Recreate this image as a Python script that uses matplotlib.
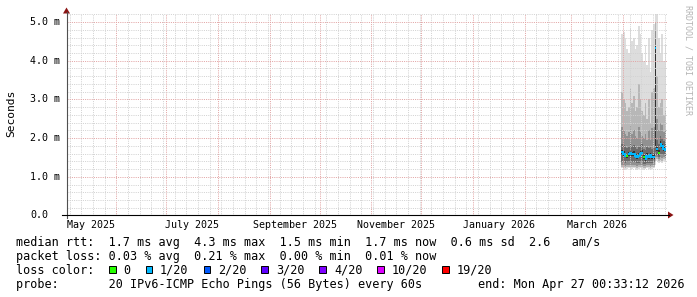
import matplotlib
matplotlib.use('Agg')
import matplotlib.pyplot as plt
import matplotlib.dates as mdates
from matplotlib.ticker import MultipleLocator, NullFormatter
from matplotlib.patches import Rectangle, Polygon
from matplotlib.lines import Line2D
from matplotlib.transforms import IdentityTransform, blended_transform_factory
import numpy as np
import pandas as pd

# ---------------- data ----------------
graph_start = '2025-05-02 00:33:12'
graph_end = '2026-04-27 00:33:12'
first_day = '2026-03-31'
last_edge = '2026-04-27'

# median rtt per day (ms), Mar 31 .. Apr 26
median_ms = [1.63, 1.60, 1.55, 1.54, 1.58, 1.62, 1.58, 1.60, 1.55, 1.52, 1.55, 1.60, 1.62, 1.50,
             1.47, 1.55, 1.52, 1.56, 1.50, 1.52, 4.32, 1.72, 1.62, 1.86, 1.80, 1.72, 1.68]
# loss category index per day (0 -> 0, 1 -> 1/20 ...)
loss_cat = [1, 1, 1, 0, 1, 1, 1, 1, 1, 1, 1, 1, 1, 0,
            1, 1, 1, 1, 1, 1, 1, 1, 0, 1, 1, 1, 1]

# smoke bands (outer -> inner)
smoke1_hi = [4.70, 4.75, 4.60, 4.30, 4.20, 4.85, 4.50, 4.60, 4.30, 4.40, 4.90, 4.70, 4.20, 4.00,
             4.40, 3.90, 4.60, 3.70, 4.80, 4.95, 5.20, 5.20, 4.60, 4.20, 4.70, 4.00, 4.40]
smoke1_lo = [1.22, 1.20, 1.18, 1.20, 1.22, 1.18, 1.20, 1.22, 1.20, 1.18, 1.20, 1.22, 1.20, 1.18,
             1.20, 1.22, 1.20, 1.18, 1.20, 1.22, 1.30, 1.40, 1.35, 1.38, 1.36, 1.40, 1.38]
smoke2_hi = [3.20, 3.00, 2.90, 2.70, 2.80, 3.30, 2.90, 3.10, 2.70, 2.80, 3.40, 3.00, 2.70, 2.60,
             2.90, 2.50, 3.00, 2.40, 3.20, 3.30, 5.00, 3.60, 2.80, 2.90, 3.00, 2.60, 2.70]
smoke2_lo = [1.26, 1.25, 1.24, 1.25, 1.26, 1.24, 1.25, 1.26, 1.25, 1.24, 1.25, 1.26, 1.25, 1.24,
             1.24, 1.26, 1.25, 1.24, 1.25, 1.26, 1.40, 1.45, 1.40, 1.44, 1.42, 1.45, 1.43]
smoke3_hi = [2.30, 2.20, 2.10, 2.05, 2.15, 2.35, 2.10, 2.20, 2.05, 2.00, 2.30, 2.15, 2.05, 2.00,
             2.10, 1.95, 2.20, 1.95, 2.25, 2.30, 4.80, 2.50, 2.20, 2.40, 2.35, 2.15, 2.20]
smoke3_lo = [1.31, 1.30, 1.29, 1.30, 1.31, 1.29, 1.30, 1.31, 1.30, 1.29, 1.30, 1.31, 1.30, 1.28,
             1.28, 1.30, 1.30, 1.29, 1.30, 1.31, 1.50, 1.50, 1.45, 1.50, 1.48, 1.50, 1.48]
smoke4_hi = [1.85, 1.82, 1.76, 1.74, 1.80, 1.85, 1.80, 1.82, 1.76, 1.72, 1.78, 1.82, 1.85, 1.72,
             1.68, 1.76, 1.74, 1.78, 1.72, 1.74, 4.55, 1.95, 1.85, 2.05, 2.00, 1.92, 1.88]
smoke4_lo = [1.38, 1.37, 1.36, 1.37, 1.38, 1.36, 1.37, 1.38, 1.37, 1.35, 1.36, 1.38, 1.37, 1.34,
             1.33, 1.36, 1.36, 1.35, 1.36, 1.37, 1.65, 1.56, 1.50, 1.58, 1.56, 1.56, 1.54]
smoke5_hi = [1.69, 1.66, 1.61, 1.60, 1.64, 1.68, 1.64, 1.66, 1.61, 1.58, 1.61, 1.66, 1.68, 1.56,
             1.53, 1.61, 1.58, 1.62, 1.56, 1.58, 4.38, 1.78, 1.68, 1.92, 1.86, 1.78, 1.74]
smoke5_lo = [1.58, 1.55, 1.50, 1.49, 1.53, 1.57, 1.53, 1.55, 1.50, 1.47, 1.50, 1.55, 1.57, 1.45,
             1.42, 1.50, 1.47, 1.51, 1.45, 1.47, 1.80, 1.67, 1.57, 1.80, 1.75, 1.67, 1.63]
smoke_colors = ['#dddddd', '#b7b7b7', '#919191', '#6b6b6b', '#323232']

loss_labels = ['0', '1/20', '2/20', '3/20', '4/20', '10/20', '19/20']
loss_colors = ['#26ff00', '#00b8ff', '#0059ff', '#5e00ff', '#7e00ff', '#dd00ff', '#ff0000']

y_ticks = [0, 1, 2, 3, 4, 5]
y_tick_labels = ['0.0', '1.0 m', '2.0 m', '3.0 m', '4.0 m', '5.0 m']
x_label_dates = ['2025-05-16 12:00', '2025-07-16 12:00', '2025-09-16 00:00',
                 '2025-11-16 00:00', '2026-01-16 12:00', '2026-03-16 12:00']
x_labels = ['May 2025', 'July 2025', 'September 2025', 'November 2025',
            'January 2026', 'March 2026']

legend_rtt = "median rtt:  1.7 ms avg  4.3 ms max  1.5 ms min  1.7 ms now  0.6 ms sd  2.6   am/s"
legend_loss = "packet loss: 0.03 % avg  0.21 % max  0.00 % min  0.01 % now"
legend_color = "loss color:"
legend_probe = "probe:       20 IPv6-ICMP Echo Pings (56 Bytes) every 60s"
legend_end = "end: Mon Apr 27 00:33:12 2026"

# ---------------- figure ----------------
W, H = 697, 297
fig = plt.figure(figsize=(W / 100, H / 100), dpi=100, facecolor='white')

X0, X1 = 66.5, 666.5
Y0, Y1 = 215.5, 14.3
ax = fig.add_axes([X0 / W, 1 - Y0 / H, (X1 - X0) / W, (Y0 - Y1) / H])
ax.set_facecolor('white')
for s in ax.spines.values():
    s.set_visible(False)

t0 = pd.Timestamp(graph_start)
t1 = pd.Timestamp(graph_end)
ax.set_xlim(t0, t1)
ax.set_ylim(0, 5.2)

edges = pd.date_range(first_day, last_edge, freq='D')

bands = [(smoke1_lo, smoke1_hi), (smoke2_lo, smoke2_hi), (smoke3_lo, smoke3_hi),
         (smoke4_lo, smoke4_hi), (smoke5_lo, smoke5_hi)]
for (lo, hi), col in zip(bands, smoke_colors):
    ax.fill_between(edges, lo + [lo[-1]], hi + [hi[-1]], step='post',
                    color=col, linewidth=0, antialiased=False, zorder=2)

# median line, step style, colour by loss
xn = mdates.date2num(edges)
runs = []
cur = None
for i, m in enumerate(median_ms):
    if cur is not None and cur['c'] == loss_cat[i] and abs(m - median_ms[i - 1]) < 1.0:
        cur['x'] += [xn[i], xn[i + 1]]
        cur['y'] += [m, m]
    else:
        cur = {'c': loss_cat[i], 'x': [xn[i], xn[i + 1]], 'y': [m, m]}
        runs.append(cur)
for r in runs:
    ax.plot(r['x'], r['y'], color=loss_colors[r['c']], lw=1.45,
            solid_capstyle='butt', solid_joinstyle='miter', zorder=5)

# grid
ax.xaxis.set_major_locator(mdates.MonthLocator(bymonthday=1))
ax.xaxis.set_minor_locator(mdates.WeekdayLocator(byweekday=mdates.SU))
ax.yaxis.set_major_locator(MultipleLocator(1.0))
ax.yaxis.set_minor_locator(MultipleLocator(0.2))
ax.xaxis.set_major_formatter(NullFormatter())
ax.yaxis.set_major_formatter(NullFormatter())
ax.tick_params(which='both', length=0, labelbottom=False, labelleft=False)
ax.grid(which='minor', color='#d2d2d2', linestyle=(0, (1, 1.2)), linewidth=0.72, zorder=3)
ax.grid(which='major', color='#e2a4a4', linestyle=(0, (1, 1.2)), linewidth=0.72, zorder=3)
ax.set_axisbelow(False)

mono = 'DejaVu Sans Mono'

# tick labels
ytrans = blended_transform_factory(fig.transFigure, ax.transData)
for v, lab in zip(y_ticks, y_tick_labels):
    t = ax.text(30 / W, v, lab, transform=ytrans, ha='left', va='center',
                fontsize=7.2, family=mono, color='#000000')
xtrans = blended_transform_factory(ax.transData, fig.transFigure)
for d, lab in zip(x_label_dates, x_labels):
    ax.text(pd.Timestamp(d), 1 - 228.3 / H, lab, transform=xtrans, ha='center',
            va='baseline', fontsize=7.2, family=mono, color='#000000')

# axes lines and arrows (pixel coords)
def P(x, y):
    return (x, H - y)

idt = IdentityTransform()
fig.add_artist(Line2D([P(66.5, 217.5)[0], P(66.5, 12)[0]], [P(66.5, 217.5)[1], P(66.5, 12)[1]],
                      transform=idt, color='#505050', lw=0.8))
fig.add_artist(Line2D([P(62, 215)[0], P(669, 215)[0]], [P(62, 215)[1], P(669, 215)[1]],
                      transform=idt, color='#000000', lw=0.8))
fig.add_artist(Polygon([P(66.5, 7.5), P(63, 13.5), P(70, 13.5)], closed=True,
                       transform=idt, color='#8b1414', lw=0))
fig.add_artist(Polygon([P(673.5, 215), P(668, 211.5), P(668, 218.5)], closed=True,
                       transform=idt, color='#8b1414', lw=0))

# y axis title
fig.text(11 / W, 1 - 113.5 / H, 'Seconds', rotation=90, ha='center', va='center',
         fontsize=8.1, family=mono, color='#000000')
# watermark
fig.text(688 / W, 1 - 60 / H, 'RRDTOOL / TOBI OETIKER', rotation=270, ha='center',
         va='center', fontsize=6.0, family=mono, color='#b4b4b4')

# legend
LFS = 8.5
base = [245.7, 259.7, 273.7, 287.7]
fig.text(16 / W, 1 - base[0] / H, legend_rtt, ha='left', va='baseline', fontsize=LFS, family=mono)
fig.text(16 / W, 1 - base[1] / H, legend_loss, ha='left', va='baseline', fontsize=LFS, family=mono)
fig.text(16 / W, 1 - base[2] / H, legend_color, ha='left', va='baseline', fontsize=LFS, family=mono)
fig.text(16 / W, 1 - base[3] / H, legend_probe, ha='left', va='baseline', fontsize=LFS, family=mono)
fig.text(478.3 / W, 1 - base[3] / H, legend_end, ha='left', va='baseline', fontsize=LFS, family=mono)

cw = 7.11
sx = 109.0
for lab, col in zip(loss_labels, loss_colors):
    x, y = P(sx, 272.5)
    fig.add_artist(Rectangle((x, y), 6.5, 6.5, transform=idt, facecolor=col,
                             edgecolor='#000000', lw=0.7))
    tx = sx + 14.5
    fig.text(tx / W, 1 - base[2] / H, lab, ha='left', va='baseline', fontsize=LFS, family=mono)
    sx = tx + len(lab) * cw + 15

fig.savefig('out.png', dpi=100, facecolor='white')
